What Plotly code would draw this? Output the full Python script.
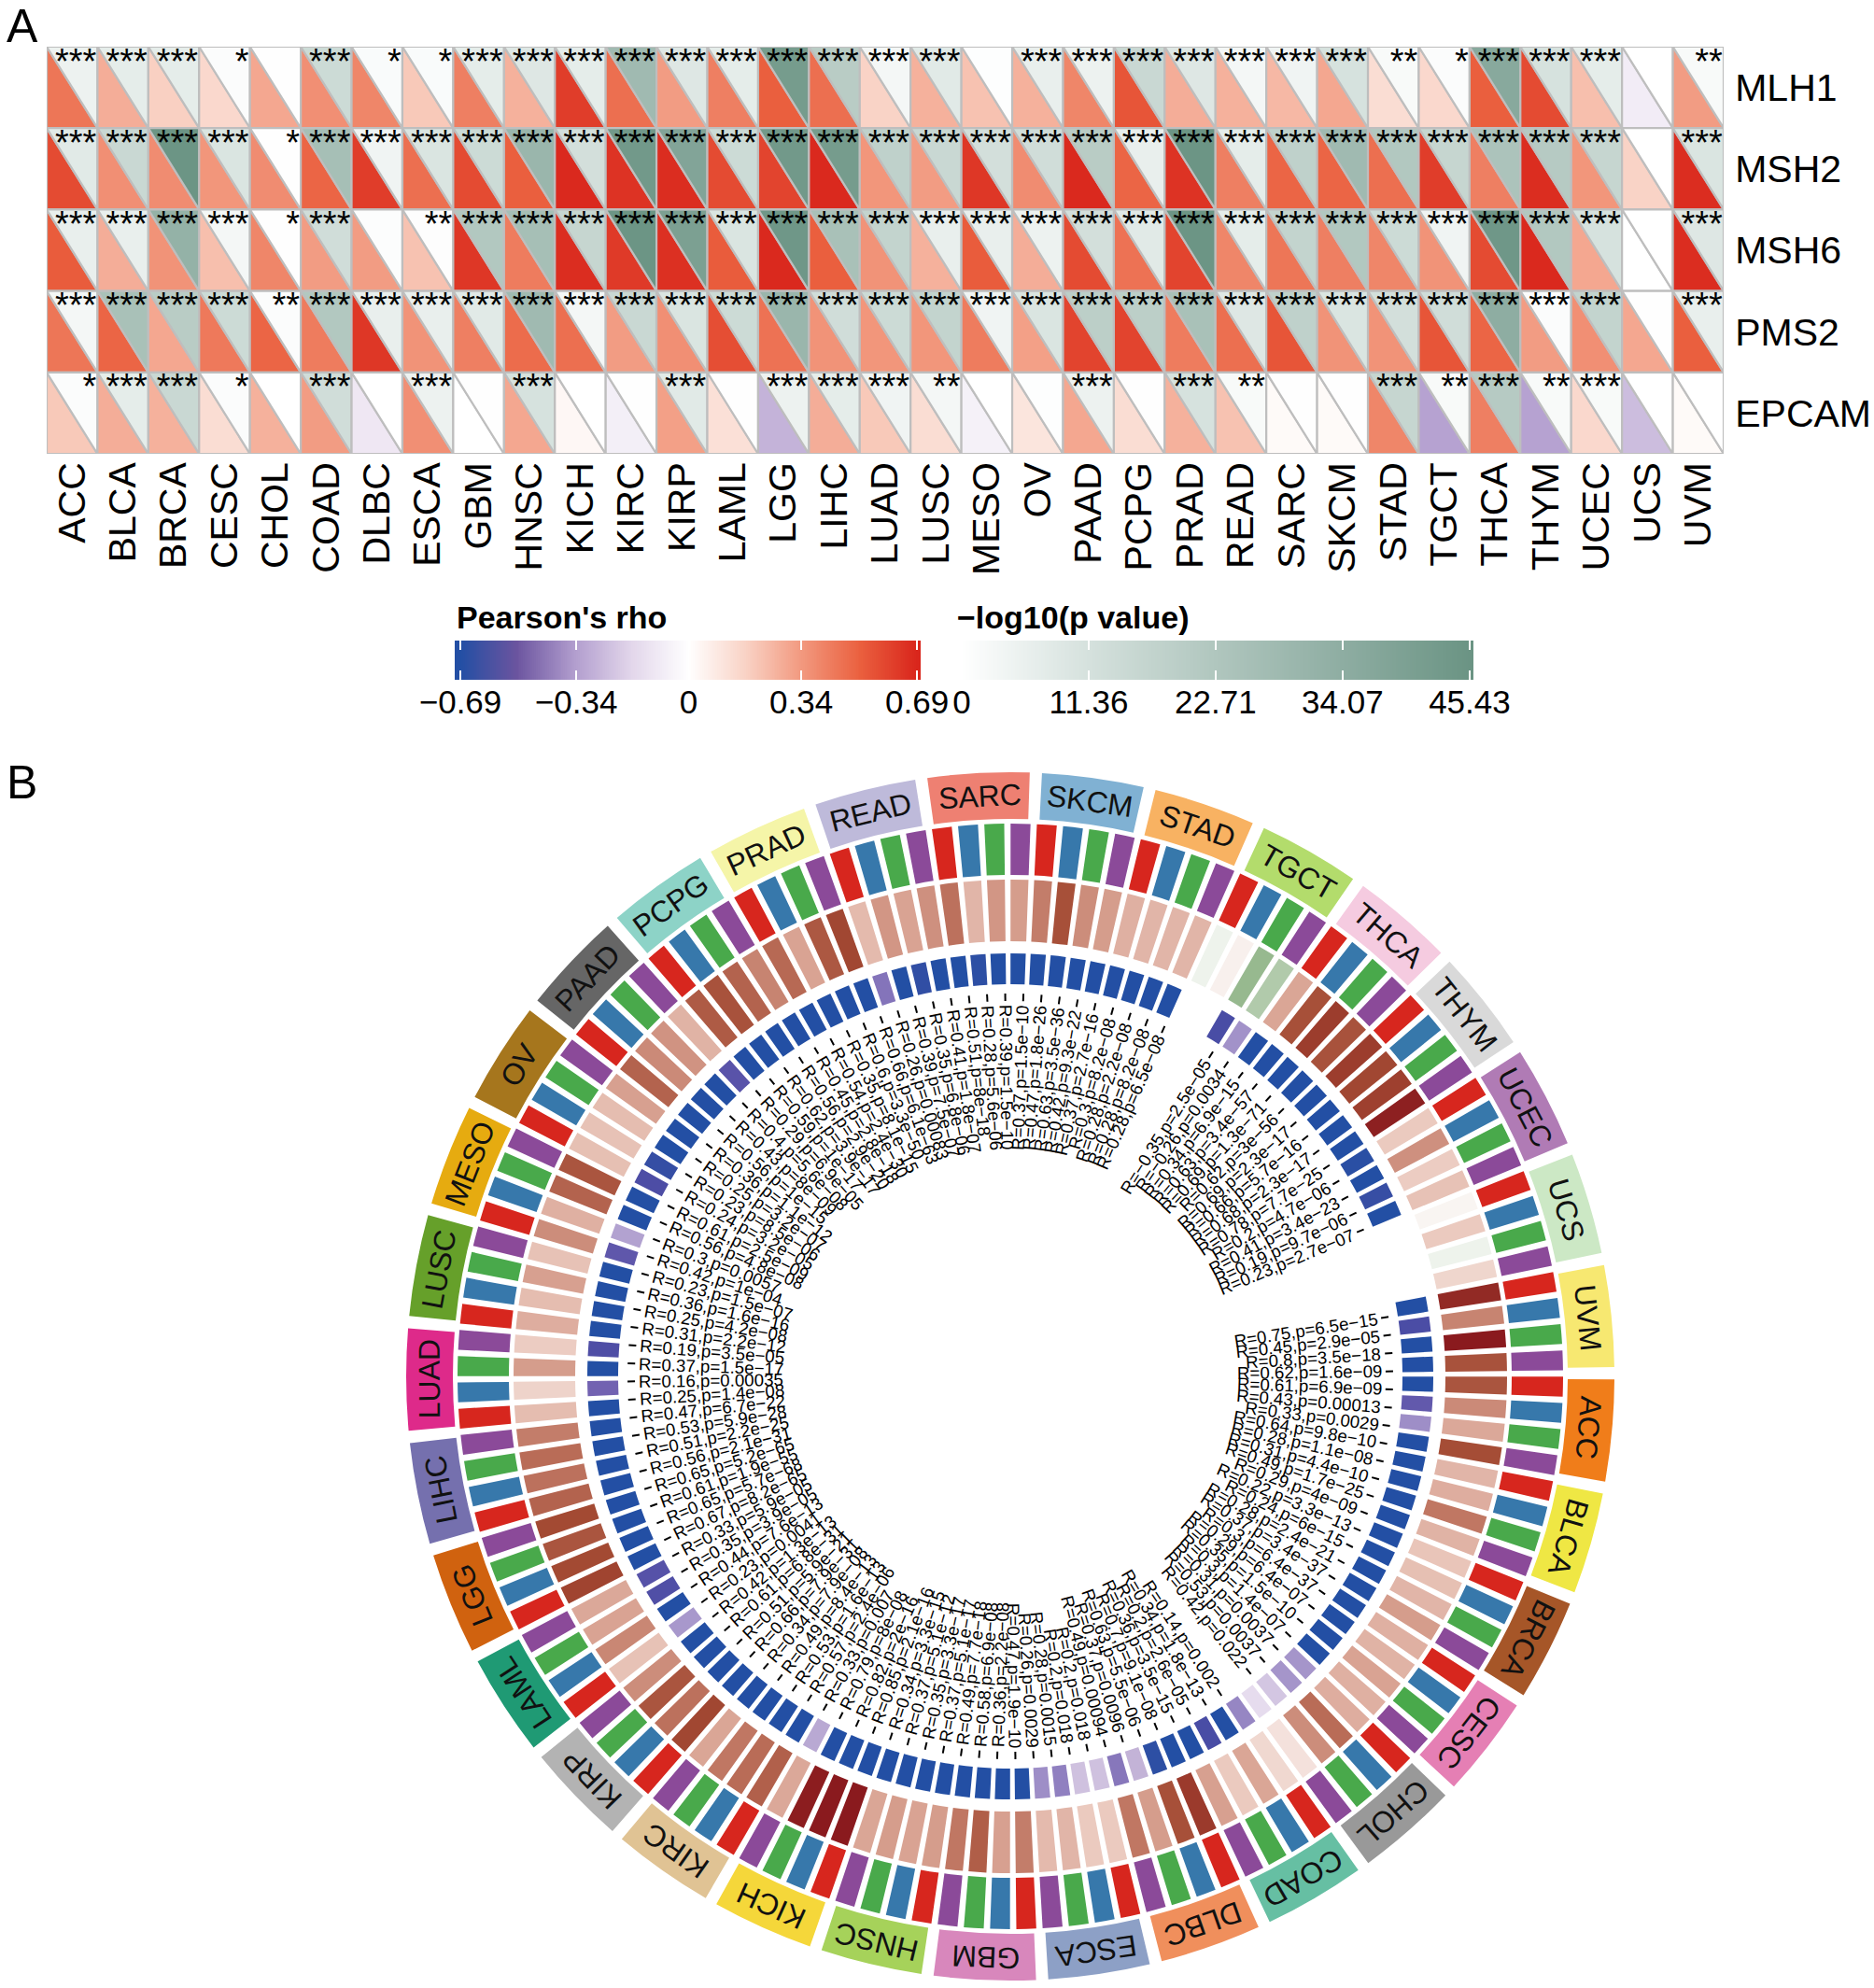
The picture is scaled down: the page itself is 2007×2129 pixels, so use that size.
import math
import numpy as np
import plotly.graph_objects as go

W, H = 2007, 2129
FONT = "Liberation Sans"

cancers = ["ACC","BLCA","BRCA","CESC","CHOL","COAD","DLBC","ESCA","GBM","HNSC","KICH","KIRC","KIRP","LAML","LGG","LIHC","LUAD","LUSC","MESO","OV","PAAD","PCPG","PRAD","READ","SARC","SKCM","STAD","TGCT","THCA","THYM","UCEC","UCS","UVM"]
genes = ["MLH1","MSH2","MSH6","PMS2","EPCAM"]

rho_MLH1 = [.45,.28,.18,.15,.30,.37,.40,.20,.42,.27,.62,.47,.33,.42,.52,.47,.17,.27,.22,.27,.40,.55,.28,.27,.25,.30,.13,.15,.52,.58,.23,-.08,.33]
rho_MSH2 = [.58,.37,.38,.35,.38,.50,.62,.47,.58,.52,.68,.65,.67,.58,.60,.68,.35,.33,.64,.38,.68,.50,.65,.42,.50,.50,.47,.62,.42,.67,.35,.17,.67]
rho_MSH6 = [.53,.28,.36,.23,.40,.33,.33,.22,.64,.43,.67,.63,.66,.53,.68,.52,.36,.27,.53,.28,.58,.46,.60,.40,.45,.42,.40,.36,.58,.68,.30,.00,.67]
rho_PMS2 = [.45,.50,.30,.44,.50,.43,.64,.36,.42,.48,.47,.33,.37,.57,.46,.36,.35,.35,.43,.32,.60,.60,.43,.47,.55,.36,.36,.55,.50,.33,.37,.30,.52]
rho_EPCAM = [.20,.28,.27,.13,.27,.33,-.10,.37,.00,.30,.03,-.07,.32,.12,-.28,.28,.20,.13,-.06,.10,.30,.13,.27,.22,.02,.02,.40,-.33,.42,-.33,.15,-.25,.02]
logp_MLH1 = [5,7,7,1,.3,14,1.5,1.5,7,9,7,28,9,7,42,20,3,8,.5,6,5,15,9,3,4,11,2,1,36,11,7,0,2]
logp_MSH2 = [8,15,45,10,.3,26,4,10,14,30,12,43,38,14,43,42,18,15,12,13,20,6,45,7,18,28,22,16,24,21,16,0,10]
logp_MSH6 = [6,6,32,3,.3,13,.8,.6,22,26,16,45,40,10,44,25,17,6,6,5,12,8,45,7,17,22,14,4,44,22,11,0,9]
logp_PMS2 = [3,25,20,14,1,22,6,6,8,28,3,15,10,14,30,13,14,17,4,10,19,19,25,9,18,10,12,13,34,1,17,.2,6]
logp_EPCAM = [1,7,15,1,0,13,.1,5,.2,11,0,.2,8,.3,5,7,4,3,0,.5,5,.3,11,2,.3,.3,16,2,21,2,2,0,.1]
stars_MLH1 = "3 3 3 1 0 3 1 1 3 3 3 3 3 3 3 3 3 3 0 3 3 3 3 3 3 3 2 1 3 3 3 0 2".split()
stars_MSH2 = "3 3 3 3 1 3 3 3 3 3 3 3 3 3 3 3 3 3 3 3 3 3 3 3 3 3 3 3 3 3 3 0 3".split()
stars_MSH6 = "3 3 3 3 1 3 0 2 3 3 3 3 3 3 3 3 3 3 3 3 3 3 3 3 3 3 3 3 3 3 3 0 3".split()
stars_PMS2 = "3 3 3 3 2 3 3 3 3 3 3 3 3 3 3 3 3 3 3 3 3 3 3 3 3 3 3 3 3 3 3 0 3".split()
stars_EPCAM = "1 3 3 1 0 3 0 3 0 3 0 0 3 0 3 3 3 2 0 0 3 0 3 2 0 0 3 2 3 2 3 0 0".split()

rho_rows = [rho_MLH1, rho_MSH2, rho_MSH6, rho_PMS2, rho_EPCAM]
logp_rows = [logp_MLH1, logp_MSH2, logp_MSH6, logp_PMS2, logp_EPCAM]
star_rows = [stars_MLH1, stars_MSH2, stars_MSH6, stars_PMS2, stars_EPCAM]

rho_ticks = [-0.69, -0.34, 0, 0.34, 0.69]
logp_ticks = [0, 11.36, 22.71, 34.07, 45.43]

# Panel B: four bars per cancer, clockwise from ACC
ring_R = [.61,.43,.33,.64, .28,.31,.49,.29, .22,.24,.28,.37, .3,.29,.35,.3, .31,.53,.42,.1,
          .14,.34,.2,.36, .7,.63,.37,.49, .2,.2,.28,.26, .47,.36,.58,.49, .37,.35,.37,.34,
          .85,.82,.79,.33, .57,.53,.49,.34, .66,.51,.61,.42, .23,.44,.35,.33, .67,.65,.61,.65,
          .56,.51,.53,.47, .25,.16,.37,.19, .31,.25,.36,.23, .42,.3,.56,.61, .24,.23,.25,.36,
          .56,.43,.4,.29, .59,.62,.56,.45, .54,.35,.6,.66, .26,.39,.35,.41, .51,.28,.39,.37,
          .47,.63,.42,.37, .3,.28,.28,.28, -.05,.04,-.35,-.26, .34,.63,.69,.62, .69,.66,.68,.78,
          .2,.41,.19,.23, .02,.2,-.05,.15, .75,.45,.8,.62]
ring_p = ["6.9e-09","0.00013","0.0029","9.8e-10", "1.1e-08","4.4e-10","1.7e-25","4e-09",
          "3.3e-13","6e-15","2.4e-21","3.4e-37", "6.4e-37","6.4e-07","1.5e-10","1.4e-07",
          "0.0037","0.0037","0.022","0.06", "0.002","1.8e-13","2.6e-05","3.5e-15",
          "9.1e-08","5.5e-06","0.0096","0.00094", "0.018","0.018","0.0015","0.0029",
          "1.9e-10","2.2e-08","6.9e-08","7.7e-18", "5.1e-17","3.3e-17","5.1e-12","3.3e-15",
          "2.1e-16","2e-16","8e-08","0.007", "2.4e-06","1.6e-13","8.4e-13","7.9e-08",
          "7.9e-31","5.9e-21","6.8e-31","1.3e-13", "0.0041","7.6e-13","3.9e-05","5.9e-05",
          "8.2e-65","5.7e-68","1.9e-55","5.2e-65", "2.1e-31","2.2e-25","5.9e-28","6.7e-22",
          "1.4e-08","0.00035","1.5e-17","3.5e-05", "2.2e-12","4.2e-08","1.6e-16","1.5e-07",
          "1e-04","0.0057","4.8e-08","2.5e-09", "3.2e-05","8.5e-06","3.2e-07","1.1e-12",
          "1e-15","8e-09","5.6e-08","6.9e-05", "1e-17","3.9e-17","2.9e-20","2.8e-18",
          "2.4e-30","8.1e-15","3.3e-50","6.1e-63", "0.00083","7.5e-07","6.8e-06","1.8e-07",
          "8e-18","5.6e-06","1.5e-10","1.5e-10", "1.8e-26","3.5e-36","9.3e-22","2.7e-16",
          "8.2e-08","2.2e-08","8.2e-08","6.5e-08", "0.5","0.5","2.5e-05","0.0034",
          "6.9e-15","3.4e-57","1.3e-71","3e-56", "2.3e-17","5.7e-16","2.3e-17","7.7e-25",
          "4.7e-06","3.4e-23","9.7e-06","2.7e-07", "0.5","0.5","0.5","0.5",
          "6.5e-15","2.9e-05","3.5e-18","1.6e-09"]

sector_colors = ["#F07D1A","#EFE744","#A65628","#E57FB4","#999999","#66BFA3","#F08F5C","#8DA0C6","#D887BC","#A6D25A","#F5D73A","#E0C394","#B3B3B3","#1F9A74","#D0620F","#7570AE","#DE2A8A","#66A02A","#E6AB10","#A6761D","#666666","#8DD3C7","#F5F5A8","#BEBADA","#EE8072","#80B1D3","#F8B262","#B3DC6C","#F5CBE0","#D9D9D9","#B07BB5","#CCE8C5","#F7E871"]
gene_colors = ["#D7261E","#3778AB","#49A94B","#8B4A99"]

RED_SCALE = [(-.69,"#234FA4"),(-.52,"#6B549F"),(-.34,"#B39FCF"),(-.17,"#E3D7EB"),(0,"#FFFFFF"),(.17,"#F9D3C6"),(.34,"#F2997F"),(.52,"#EA5F3E"),(.69,"#D9261C")]
GREEN_SCALE = [(0,"#FFFFFF"),(11.36,"#D5E1DD"),(22.71,"#B0C6BE"),(34.07,"#8EADA2"),(45.43,"#6B9484")]
R_SCALE = [(-.8,"#5E9A55"),(-.35,"#97B98F"),(-.05,"#EEF3EC"),(0,"#FAFAF8"),(.05,"#F8EDEA"),(.2,"#EBCABF"),(.35,"#D9A393"),(.5,"#BE7460"),(.65,"#A34A33"),(.8,"#8A1A1E")]
P_SCALE = [(0,"#FFFFFF"),(.5,"#FFFFFF"),(1.3,"#E3D8EC"),(2,"#C4B4D8"),(2.5,"#A090C8"),(3.5,"#7060B0"),(4.5,"#4D4DA5"),(5.5,"#234FA4"),(8,"#234FA4")]


def hex2rgb(h):
    return tuple(int(h[i:i + 2], 16) for i in (1, 3, 5))


def interp(scale, v):
    xs = [s[0] for s in scale]
    cols = [hex2rgb(s[1]) for s in scale]
    rgb = [float(np.interp(v, xs, [c[j] for c in cols])) for j in range(3)]
    return "rgb(%d,%d,%d)" % tuple(round(c) for c in rgb)


def plotly_scale(scale):
    lo, hi = scale[0][0], scale[-1][0]
    return [[(x - lo) / (hi - lo), c] for x, c in scale]


fig = go.Figure()
px = lambda x: x / W
py = lambda y: 1 - y / H

# ---------- panel A ----------
A_L, A_R, A_T, A_B = 50, 1846, 50, 486
GRID = "#BEBEBE"
for r in range(len(genes)):
    for c in range(len(cancers)):
        fig.add_trace(go.Scatter(x=[c, c, c + 1, c], y=[r, r + 1, r + 1, r], mode="lines", fill="toself",
                                 fillcolor=interp(RED_SCALE, rho_rows[r][c]), line=dict(color=GRID, width=2.2),
                                 hoverinfo="skip", showlegend=False, xaxis="x", yaxis="y"))
        fig.add_trace(go.Scatter(x=[c, c + 1, c + 1, c], y=[r, r, r + 1, r], mode="lines", fill="toself",
                                 fillcolor=interp(GREEN_SCALE, logp_rows[r][c]), line=dict(color=GRID, width=2.2),
                                 hoverinfo="skip", showlegend=False, xaxis="x", yaxis="y"))
sx, sy, st = [], [], []
for r in range(len(genes)):
    for c in range(len(cancers)):
        n = int(star_rows[r][c])
        if n:
            sx.append(c + 0.98); sy.append(r + 0.22); st.append("*" * n)
fig.add_trace(go.Scatter(x=sx, y=sy, text=st, mode="text", textposition="middle left", cliponaxis=False,
                         textfont=dict(family=FONT, size=38, color="black"), hoverinfo="skip",
                         showlegend=False, xaxis="x", yaxis="y"))

# ---------- legends ----------
RHO_RANGE = [-.707, .701]
P_RANGE = [0, 45.77]
grad_rho = np.linspace(RHO_RANGE[0], RHO_RANGE[1], 256)
grad_p = np.linspace(P_RANGE[0], P_RANGE[1], 256)
fig.add_trace(go.Heatmap(x=grad_rho, y=[0, 1], z=[grad_rho, grad_rho], colorscale=plotly_scale(RED_SCALE),
                         zmin=rho_ticks[0], zmax=rho_ticks[-1], showscale=False, hoverinfo="skip", xaxis="x2", yaxis="y2"))
fig.add_trace(go.Heatmap(x=grad_p, y=[0, 1], z=[grad_p, grad_p], colorscale=plotly_scale(GREEN_SCALE),
                         zmin=logp_ticks[0], zmax=logp_ticks[-1], showscale=False, hoverinfo="skip", xaxis="x3", yaxis="y3"))

# ---------- panel B ----------
CX, CY, RO = 1082, 1474, 652
STEP = 360 / len(ring_R)
SEC = 360 / len(cancers)
ROT = 0.3
TXT_SHIFT = 0.9
theta_bars = [(k + .5) * STEP for k in range(len(ring_R))]
theta_sec = [(i + .5) * SEC for i in range(len(cancers))]
p_num = [float(s) for s in ring_p]
logp_ring = [min(-math.log10(v), 8) for v in p_num]

fig.add_trace(go.Barpolar(theta=theta_sec, r=[50] * len(cancers), base=597, width=9.75, subplot="polar",
                          marker=dict(color=sector_colors, line=dict(width=0)), hoverinfo="skip", showlegend=False))
fig.add_trace(go.Barpolar(theta=theta_bars, r=[55] * len(ring_R), base=537, width=2.07, subplot="polar",
                          marker=dict(color=[gene_colors[k % 4] for k in range(len(ring_R))], line=dict(width=0)),
                          hoverinfo="skip", showlegend=False))
fig.add_trace(go.Barpolar(theta=theta_bars, r=[66] * len(ring_R), base=466, width=2.07, subplot="polar",
                          marker=dict(color=ring_R, colorscale=plotly_scale(R_SCALE), cmin=R_SCALE[0][0], cmax=R_SCALE[-1][0],
                                      line=dict(width=0)), hoverinfo="skip", showlegend=False))
fig.add_trace(go.Barpolar(theta=theta_bars, r=[33] * len(ring_R), base=420, width=2.07, subplot="polar",
                          marker=dict(color=logp_ring, colorscale=plotly_scale(P_SCALE), cmin=P_SCALE[0][0], cmax=P_SCALE[-1][0],
                                      line=dict(width=0)), hoverinfo="skip", showlegend=False))

tick_t, tick_r = [], []
annots = []
CW = {'R': .722, '=': .584, '.': .278, ',': .278, 'p': .556, 'e': .556, '\u2212': .584}
TXT_SIZE = 18.7


def norm_angle(a):
    a = (a + 180) % 360 - 180
    return a


for k, (r_val, p_txt, p_v) in enumerate(zip(ring_R, ring_p, p_num)):
    if p_v > 0.05:
        continue
    t = theta_bars[k] + TXT_SHIFT
    tick_t += [t, t, None]
    tick_r += [402, 410, None]
    label = ("R=%s,p=%s" % (r_val, p_txt)).replace("-", "\u2212")
    length = sum(CW.get(ch, .556) for ch in label) * TXT_SIZE
    cw = t - ROT
    rc = 398 - length / 2
    xc = CX + rc * math.cos(math.radians(cw))
    yc = CY + rc * math.sin(math.radians(cw))
    ang = cw if (cw < 90 or cw > 270) else cw - 180
    annots.append(dict(x=px(xc), y=py(yc), xref="paper", yref="paper", text=label, showarrow=False,
                       xanchor="center", yanchor="middle", textangle=norm_angle(ang),
                       font=dict(family=FONT, size=TXT_SIZE, color="black")))

fig.add_trace(go.Scatterpolar(theta=tick_t, r=tick_r, mode="lines", subplot="polar", line=dict(color="black", width=2),
                              hoverinfo="skip", showlegend=False))

for name, t in zip(cancers, theta_sec):
    cw = t - ROT
    rc = 622
    annots.append(dict(x=px(CX + rc * math.cos(math.radians(cw))), y=py(CY + rc * math.sin(math.radians(cw))),
                       xref="paper", yref="paper", text=name, showarrow=False, xanchor="center", yanchor="middle",
                       textangle=norm_angle(cw + 90), font=dict(family=FONT, size=32, color="#111111")))

annots += [
    dict(x=px(5), y=py(28), xref="paper", yref="paper", text="A", showarrow=False, xanchor="left", yanchor="middle",
         font=dict(family=FONT, size=50, color="black")),
    dict(x=px(5), y=py(838), xref="paper", yref="paper", text="B", showarrow=False, xanchor="left", yanchor="middle",
         font=dict(family=FONT, size=50, color="black")),
    dict(x=px(487), y=py(661), xref="paper", yref="paper", text="<b>Pearson's rho</b>", showarrow=False, xanchor="left",
         yanchor="middle", font=dict(family=FONT, size=34, color="black")),
    dict(x=px(1023), y=py(661), xref="paper", yref="paper", text="<b>\u2212log10(p value)</b>", showarrow=False,
         xanchor="left", yanchor="middle", font=dict(family=FONT, size=34, color="black")),
]

fig.update_layout(
    width=W, height=H, margin=dict(l=0, r=0, t=0, b=0, autoexpand=False), paper_bgcolor="white", plot_bgcolor="white",
    showlegend=False, hovermode=False, annotations=annots,
    xaxis=dict(domain=[px(A_L), px(A_R)], range=[0, len(cancers)], anchor="y", tickmode="array",
               tickvals=[i + .5 for i in range(len(cancers))], ticktext=cancers, tickangle=-90, showgrid=False,
               zeroline=False, ticks="", ticklabelstandoff=0,
               tickfont=dict(family=FONT, size=41, color="black")),
    yaxis=dict(domain=[py(A_B), py(A_T)], range=[len(genes), 0], anchor="x", side="right", tickmode="array",
               tickvals=[i + .5 for i in range(len(genes))], ticktext=genes, showgrid=False, zeroline=False,
               ticks="outside", ticklen=3, tickcolor="rgba(0,0,0,0)", tickfont=dict(family=FONT, size=41, color="black")),
    xaxis2=dict(domain=[px(487), px(986)], range=RHO_RANGE, anchor="y2", tickmode="array", tickvals=rho_ticks,
                ticktext=[str(v).replace("-", "\u2212") for v in rho_ticks], ticks="inside", ticklen=10, tickwidth=2,
                tickcolor="white", mirror="ticks", showgrid=False, zeroline=False, showline=False,
                tickfont=dict(family=FONT, size=35, color="black")),
    yaxis2=dict(domain=[py(728), py(686)], range=[0, 1], anchor="x2", visible=False),
    xaxis3=dict(domain=[px(1030), px(1578)], range=P_RANGE, anchor="y3", tickmode="array", tickvals=logp_ticks,
                ticktext=[str(v) for v in logp_ticks], ticks="inside", ticklen=10, tickwidth=2, tickcolor="white",
                mirror="ticks", showgrid=False, zeroline=False, showline=False,
                tickfont=dict(family=FONT, size=35, color="black")),
    yaxis3=dict(domain=[py(728), py(686)], range=[0, 1], anchor="x3", visible=False),
    polar=dict(domain=dict(x=[px(CX - RO), px(CX + RO)], y=[py(CY + RO), py(CY - RO)]), bgcolor="rgba(0,0,0,0)",
               barmode="overlay",
               angularaxis=dict(visible=False, direction="clockwise", rotation=ROT, thetaunit="degrees", type="linear"),
               radialaxis=dict(visible=False, range=[0, RO])),
)

fig.write_html("out.html", config=dict(displayModeBar=False), post_script="document.body.style.margin='0';")
